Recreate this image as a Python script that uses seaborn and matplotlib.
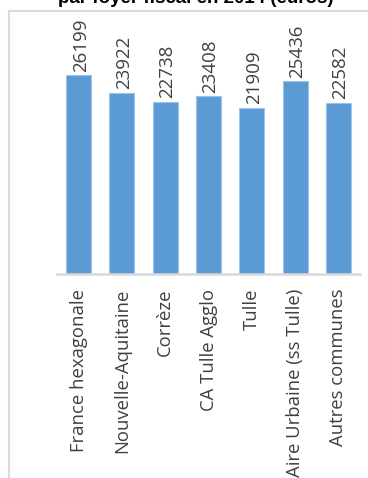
import matplotlib
matplotlib.use("Agg")
import matplotlib.pyplot as plt
from matplotlib.lines import Line2D
import seaborn as sns
import pandas as pd

categories = ["France hexagonale", "Nouvelle-Aquitaine", "Corrèze", "CA Tulle Agglo",
              "Tulle", "Aire Urbaine (ss Tulle)", "Autres communes"]
values = [26199, 23922, 22738, 23408, 21909, 25436, 22582]
title = "par foyer fiscal en 2014 (euros)"

sns.set_theme(style="white")
plt.rcParams["font.family"] = ["Open Sans", "DejaVu Sans"]

W, H = 368, 478
fig = plt.figure(figsize=(W / 100, H / 100), dpi=100)

# chart frame: left and top edges visible
fig.add_artist(Line2D([9 / W, 9 / W], [0, 1 - 11 / H], transform=fig.transFigure,
                      color="#d9d9d9", lw=1.5))
fig.add_artist(Line2D([9 / W, 1], [1 - 11 / H, 1 - 11 / H], transform=fig.transFigure,
                      color="#d9d9d9", lw=1.5))

fig.text(196 / W, 1 - 3 / H, title, ha="center", va="baseline", fontsize=13.5,
         fontweight="bold", family=["Liberation Sans", "DejaVu Sans"], color="black")

ax_left, ax_right, ax_bottom_px = 57, 360, 274
ymax = 30000
ax_h_px = ymax * (274 - 75.3) / 26199
ax = fig.add_axes([ax_left / W, 1 - ax_bottom_px / H, (ax_right - ax_left) / W, ax_h_px / H])

df = pd.DataFrame({"cat": categories, "val": values})
sns.barplot(data=df, x="cat", y="val", color="#5B9BD5", saturation=1, width=0.58,
            edgecolor="#9dc3e6", linewidth=0.8, ax=ax)

ax.set_xlim(-0.5, len(categories) - 0.5)
ax.set_ylim(0, ymax)
ax.set_xlabel("")
ax.set_ylabel("")
ax.set_yticks([])
for s in ["left", "right", "top"]:
    ax.spines[s].set_visible(False)
ax.spines["bottom"].set_color("#d9d9d9")
ax.spines["bottom"].set_linewidth(1.8)
ax.tick_params(axis="x", length=0, pad=10.5, labelsize=13.3, labelcolor="#404040")
ax.set_xticks(range(len(categories)))
ax.set_xticklabels(categories, rotation=90)
for lbl in ax.get_xticklabels():
    lbl.set_x(lbl.get_position()[0])

for i, v in enumerate(values):
    ax.annotate(f"{v}", (i, v), xytext=(1.5, 2.5), textcoords="offset points",
                rotation=90, ha="center", va="bottom", fontsize=13.5,
                color="#404040", annotation_clip=False)

fig.savefig("out.png", dpi=100)
